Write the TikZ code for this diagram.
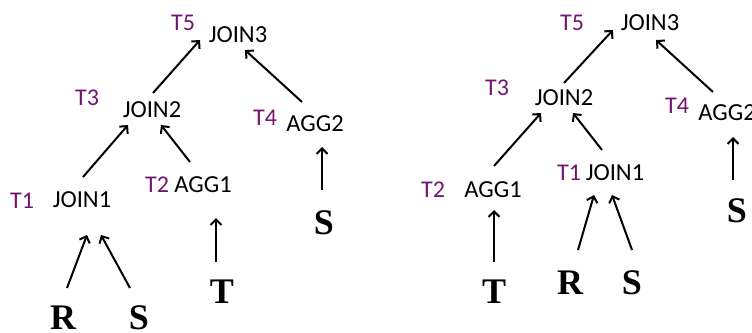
\documentclass[tikz,border=0pt]{standalone}
\usepackage{fontspec}
\setmainfont{Liberation Serif}
\newfontfamily\calfont{Carlito}
\usetikzlibrary{arrows.meta,calc}
\definecolor{tpurple}{RGB}{114,20,112}
\tikzset{
  op/.style={font=\calfont\fontsize{24.5}{28}\selectfont, inner sep=0pt, anchor=base, text=black},
  tlab/.style={font=\calfont\fontsize{24}{28}\selectfont, inner sep=0pt, anchor=base, text=tpurple},
  rel/.style={font=\bfseries\fontsize{36}{40}\selectfont, inner sep=0pt, anchor=base, text=black},
  arr/.style={line width=2pt, -{Straight Barb[length=5.5pt,width=11pt,line width=2pt]}}
}
\begin{document}
\begin{tikzpicture}[x=1pt,y=-1pt]
\useasboundingbox (0,0) rectangle (752,332);
% ---------- left tree ----------
\node[tlab] (t5l) at (183,30) {T5};
\node[op] (J3l) at (238,42) {JOIN3};
\node[tlab] (t3l) at (87,105) {T3};
\node[op] (J2l) at (152,117) {JOIN2};
\node[tlab] (t4l) at (265,125) {T4};
\node[op] (A2l) at (315,131) {AGG2};
\node[tlab] (t2l) at (157,192) {T2};
\node[op] (A1l) at (203,192) {AGG1};
\node[tlab] (t1l) at (22,208) {T1};
\node[op] (J1l) at (82,207) {JOIN1};
\node[rel] (Sal) at (324,234) {S};
\node[rel] (Tl) at (222,303) {T};
\node[rel] (Rl) at (63,329) {R};
\node[rel] (Sl) at (139,329) {S};
\draw[arr] ($(J2l.base)+(1,-24)$) -- ($(J3l.base)+(-38,-2)$);
\draw[arr] ($(A2l.base)+(-13,-29)$) -- ($(J3l.base)+(7,8)$);
\draw[arr] ($(J1l.base)+(1,-30)$) -- ($(J2l.base)+(-24,8)$);
\draw[arr] ($(A1l.base)+(-13,-30)$) -- ($(J2l.base)+(9,8)$);
\draw[arr] ($(Sal.base)+(-2,-44)$) -- ($(A2l.base)+(7,16)$);
\draw[arr] ($(Tl.base)+(-6,-41)$) -- ($(A1l.base)+(13,26)$);
\draw[arr] ($(Rl.base)+(4,-41)$) -- ($(J1l.base)+(5,28)$);
\draw[arr] ($(Sl.base)+(-9,-41)$) -- ($(J1l.base)+(19,28)$);
% ---------- right tree ----------
\node[tlab] (t5r) at (572,30) {T5};
\node[op] (J3r) at (650,30) {JOIN3};
\node[tlab] (t3r) at (497,95) {T3};
\node[op] (J2r) at (564,105) {JOIN2};
\node[tlab] (t4r) at (677,113) {T4};
\node[op] (A2r) at (727,120) {AGG2};
\node[tlab] (t2r) at (433,197) {T2};
\node[op] (A1r) at (493,197) {AGG1};
\node[tlab] (t1r) at (569,180) {T1};
\node[op] (J1r) at (615,180) {JOIN1};
\node[rel] (Sar) at (737,222) {S};
\node[rel] (Tr) at (494,303) {T};
\node[rel] (Rr) at (570,294) {R};
\node[rel] (Sr) at (632,294) {S};
\draw[arr] ($(J2r.base)+(0,-22)$) -- ($(J3r.base)+(-37,0)$);
\draw[arr] ($(A2r.base)+(-14,-28)$) -- ($(J3r.base)+(6,10)$);
\draw[arr] ($(A1r.base)+(1,-31)$) -- ($(J2r.base)+(-23,8)$);
\draw[arr] ($(J1r.base)+(-13,-30)$) -- ($(J2r.base)+(9,8)$);
\draw[arr] ($(Sar.base)+(-4,-42)$) -- ($(A2r.base)+(6,17)$);
\draw[arr] ($(Tr.base)+(0,-41)$) -- ($(A1r.base)+(1,13)$);
\draw[arr] ($(Rr.base)+(8,-44)$) -- ($(J1r.base)+(-21,15)$);
\draw[arr] ($(Sr.base)+(0,-44)$) -- ($(J1r.base)+(-3,15)$);
\end{tikzpicture}
\end{document}
